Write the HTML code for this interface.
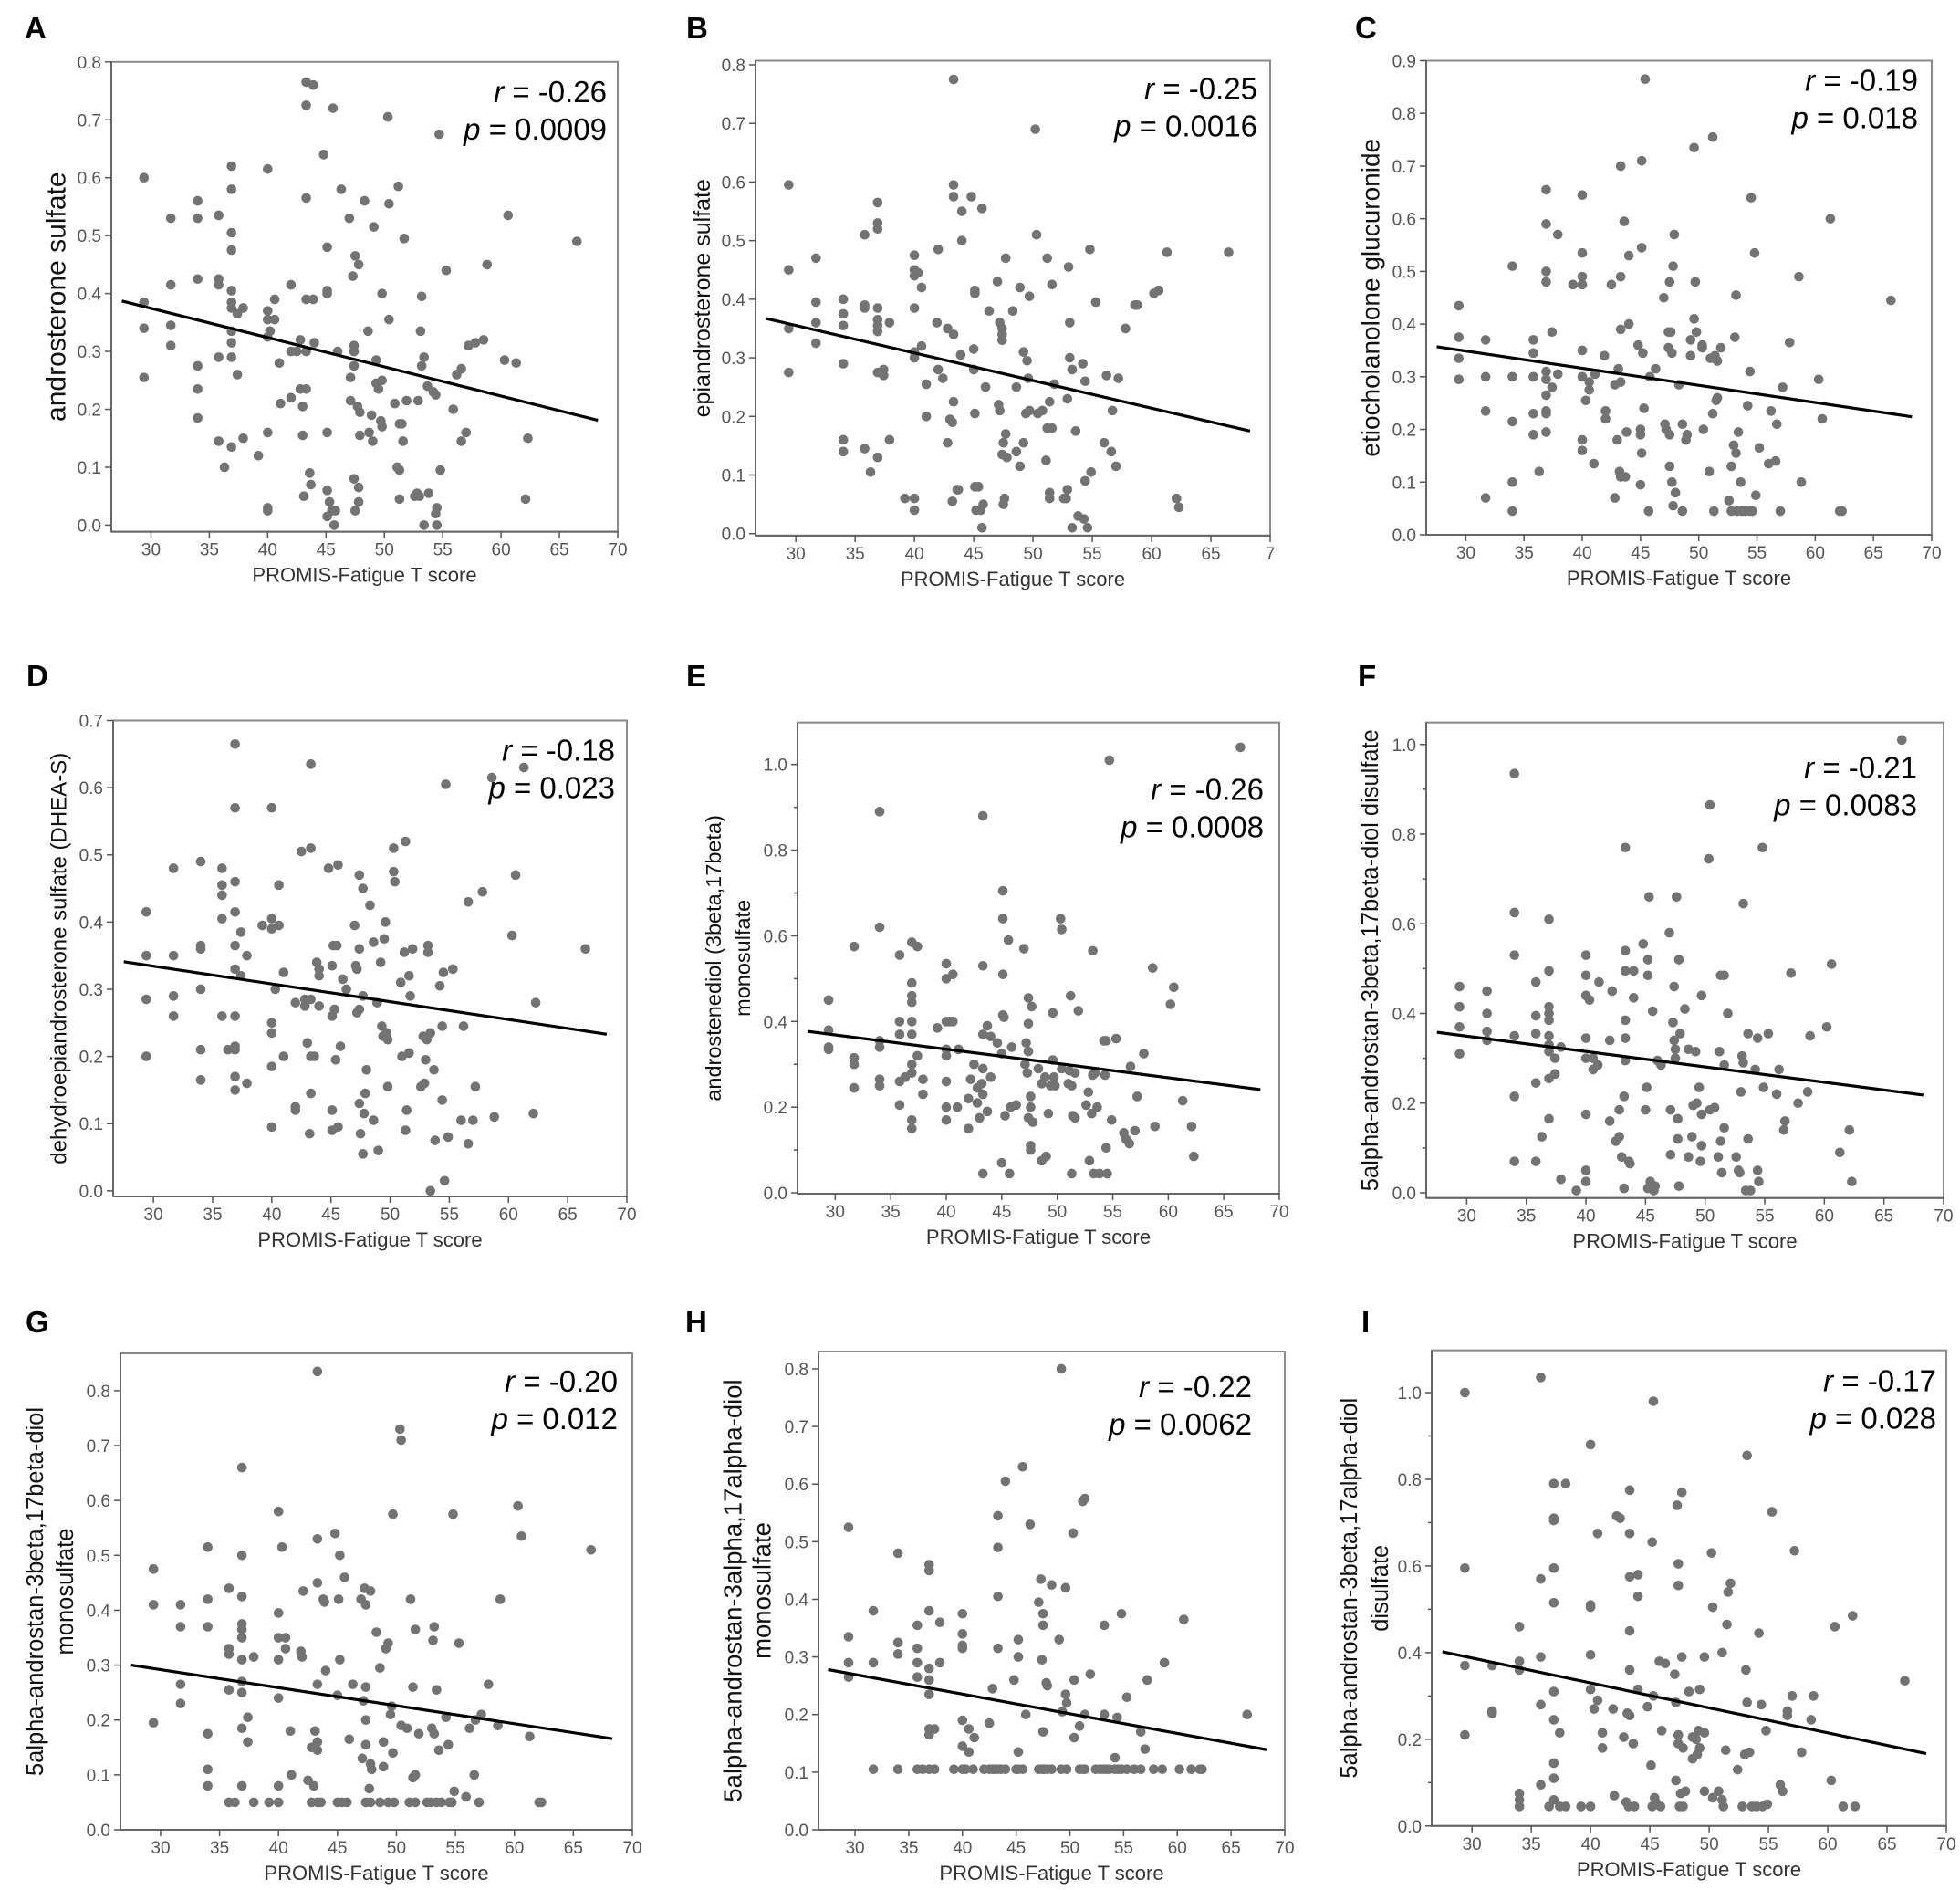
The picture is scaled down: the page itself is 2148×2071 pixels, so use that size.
<!DOCTYPE html>
<html><head><meta charset="utf-8"><style>
html,body{margin:0;padding:0;background:#fff;}
svg{display:block;font-family:"Liberation Sans",Arial,sans-serif;}
</style></head><body>
<svg id="fig" width="2148" height="2071" viewBox="0 0 2148 2071" xmlns="http://www.w3.org/2000/svg"></svg>
<script>
const xTicks=[30,35,40,45,50,55,60,65,70];
const aPts=[[29.4,0.60],[29.4,0.385],[29.4,0.34],[29.4,0.255],[31.7,0.53],[31.7,0.415],[31.7,0.345],[31.7,0.31],[34,0.56],[34,0.53],[34,0.425],[34,0.275],[34,0.235],[34,0.185],[35.8,0.535],[35.8,0.425],[35.8,0.415],[35.8,0.29],[35.8,0.145],[36.3,0.10],[36.9,0.62],[36.9,0.58],[36.9,0.505],[36.9,0.475],[36.9,0.405],[36.9,0.385],[36.9,0.375],[36.9,0.335],[36.9,0.315],[36.9,0.29],[36.9,0.135],[37.4,0.365],[37.4,0.26],[37.9,0.375],[37.9,0.15],[39.2,0.12],[40,0.615],[40,0.37],[40,0.355],[40,0.325],[40,0.16],[40,0.03],[40,0.025],[40.2,0.335],[40.6,0.39],[40.6,0.355],[41,0.28],[41.1,0.21],[42,0.415],[42,0.22],[42,0.30],[42.5,0.30],[42.8,0.32],[42.8,0.235],[43,0.205],[43,0.155],[43.1,0.05],[43.3,0.765],[43.3,0.725],[43.3,0.565],[43.3,0.39],[43.3,0.30],[43.3,0.235],[43.6,0.09],[43.7,0.07],[43.9,0.76],[43.9,0.39],[44,0.315],[44.8,0.64],[45.1,0.48],[45.1,0.405],[45.1,0.40],[45.1,0.16],[45.1,0.06],[45.1,0.015],[45.3,0.04],[45.5,0.025],[45.6,0.72],[45.7,0.0],[45.8,0.025],[46,0.30],[46.3,0.58],[47,0.53],[47.1,0.255],[47.1,0.215],[47.3,0.43],[47.4,0.31],[47.4,0.30],[47.4,0.275],[47.4,0.08],[47.5,0.465],[47.5,0.025],[47.7,0.205],[47.8,0.45],[47.8,0.065],[47.8,0.04],[47.9,0.195],[47.9,0.155],[48.3,0.56],[48.6,0.335],[48.7,0.16],[48.9,0.19],[49,0.145],[49.1,0.515],[49.3,0.285],[49.3,0.245],[49.5,0.235],[49.7,0.18],[49.8,0.40],[49.8,0.25],[49.8,0.17],[50.3,0.705],[50.4,0.555],[50.4,0.355],[50.9,0.21],[51.1,0.10],[51.2,0.585],[51.3,0.175],[51.3,0.095],[51.3,0.045],[51.5,0.175],[51.6,0.145],[51.7,0.495],[51.9,0.215],[52.6,0.05],[52.8,0.055],[52.9,0.215],[53,0.05],[53.1,0.335],[53.2,0.395],[53.2,0.275],[53.4,0.29],[53.4,0.0],[53.7,0.24],[53.8,0.055],[54.2,0.23],[54.4,0.225],[54.4,0.02],[54.5,0.03],[54.5,0.0],[54.7,0.675],[54.8,0.095],[55.3,0.44],[55.9,0.20],[56.2,0.26],[56.6,0.27],[56.6,0.145],[57,0.16],[57.2,0.31],[57.8,0.315],[58.5,0.32],[58.8,0.45],[60.3,0.285],[60.6,0.535],[61.3,0.28],[62.1,0.045],[62.3,0.15],[66.5,0.49]];
const bPts=[[29.4,0.595],[29.4,0.45],[29.4,0.35],[29.4,0.275],[31.7,0.47],[31.7,0.395],[31.7,0.36],[31.7,0.325],[34,0.40],[34,0.375],[34,0.355],[34,0.29],[34,0.16],[34,0.14],[35.8,0.51],[35.8,0.39],[35.8,0.385],[35.8,0.145],[36.3,0.105],[36.9,0.565],[36.9,0.53],[36.9,0.52],[36.9,0.385],[36.9,0.365],[36.9,0.355],[36.9,0.345],[36.9,0.275],[36.9,0.13],[37.4,0.28],[37.4,0.27],[37.9,0.36],[37.9,0.16],[39.2,0.06],[40,0.475],[40,0.45],[40,0.44],[40,0.385],[40,0.31],[40,0.30],[40,0.06],[40,0.04],[40.3,0.445],[40.6,0.42],[40.6,0.32],[41,0.255],[41,0.20],[41.9,0.36],[42,0.485],[42,0.28],[42.4,0.265],[42.8,0.35],[42.8,0.155],[43,0.195],[43.2,0.19],[43.2,0.055],[43.3,0.775],[43.3,0.595],[43.3,0.575],[43.3,0.34],[43.3,0.225],[43.6,0.075],[43.7,0.075],[43.9,0.305],[44,0.55],[44,0.50],[44.8,0.575],[45,0.315],[45,0.28],[45.1,0.415],[45.1,0.41],[45.1,0.205],[45.1,0.08],[45.2,0.04],[45.4,0.08],[45.6,0.04],[45.7,0.555],[45.7,0.01],[45.8,0.05],[46,0.25],[46.3,0.38],[47,0.43],[47.1,0.22],[47.2,0.36],[47.2,0.21],[47.4,0.35],[47.4,0.34],[47.4,0.33],[47.4,0.135],[47.5,0.155],[47.5,0.05],[47.6,0.06],[47.7,0.47],[47.7,0.17],[47.8,0.13],[48.3,0.38],[48.6,0.25],[48.6,0.14],[48.9,0.42],[48.9,0.115],[49.2,0.31],[49.2,0.155],[49.4,0.205],[49.5,0.295],[49.6,0.265],[49.7,0.405],[49.7,0.21],[50.2,0.69],[50.3,0.51],[50.4,0.205],[50.8,0.21],[51.1,0.125],[51.2,0.47],[51.2,0.18],[51.4,0.07],[51.4,0.06],[51.4,0.225],[51.6,0.18],[51.6,0.425],[51.8,0.255],[52.6,0.06],[52.8,0.06],[52.9,0.23],[52.9,0.075],[53,0.455],[53.1,0.36],[53.1,0.30],[53.3,0.28],[53.3,0.01],[53.6,0.175],[53.8,0.03],[54.2,0.29],[54.3,0.025],[54.4,0.26],[54.4,0.09],[54.6,0.01],[54.8,0.485],[54.9,0.105],[55.3,0.395],[56,0.155],[56.2,0.27],[56.6,0.14],[56.7,0.21],[57,0.115],[57.2,0.265],[57.8,0.35],[58.6,0.39],[58.8,0.39],[60.2,0.41],[60.6,0.415],[61.3,0.48],[62.1,0.06],[62.3,0.045],[66.5,0.48]];
const cPts=[[29.4,0.435],[29.4,0.375],[29.4,0.335],[29.4,0.295],[31.7,0.37],[31.7,0.30],[31.7,0.235],[31.7,0.07],[34,0.51],[34,0.30],[34,0.215],[34,0.10],[34,0.045],[35.8,0.37],[35.8,0.345],[35.8,0.30],[35.8,0.23],[35.8,0.19],[36.3,0.12],[36.9,0.655],[36.9,0.59],[36.9,0.50],[36.9,0.48],[36.9,0.31],[36.9,0.295],[36.9,0.265],[36.9,0.235],[36.9,0.23],[36.9,0.195],[37.4,0.385],[37.4,0.28],[37.9,0.57],[37.9,0.305],[39.2,0.475],[40,0.645],[40,0.535],[40,0.49],[40,0.475],[40,0.35],[40,0.30],[40,0.18],[40,0.16],[40.3,0.255],[40.6,0.29],[40.6,0.275],[41,0.135],[41.1,0.305],[41.9,0.34],[42,0.235],[42,0.22],[42.5,0.475],[42.8,0.285],[42.8,0.07],[43,0.18],[43.1,0.315],[43.2,0.12],[43.3,0.70],[43.3,0.49],[43.3,0.39],[43.3,0.29],[43.3,0.11],[43.6,0.595],[43.7,0.11],[43.8,0.195],[44,0.53],[44,0.40],[44.8,0.36],[45,0.20],[45,0.19],[45,0.095],[45.1,0.71],[45.1,0.545],[45.1,0.155],[45.2,0.345],[45.3,0.24],[45.4,0.865],[45.7,0.045],[45.8,0.30],[46.3,0.315],[47,0.45],[47.1,0.21],[47.2,0.20],[47.4,0.385],[47.4,0.355],[47.5,0.48],[47.5,0.13],[47.5,0.19],[47.6,0.385],[47.7,0.345],[47.7,0.10],[47.8,0.51],[47.8,0.055],[47.9,0.57],[48,0.08],[48.3,0.285],[48.6,0.21],[48.6,0.045],[48.9,0.18],[49,0.19],[49.3,0.37],[49.3,0.34],[49.6,0.41],[49.6,0.735],[49.7,0.48],[49.8,0.385],[50.3,0.36],[50.3,0.355],[50.4,0.20],[50.9,0.12],[51,0.335],[51.2,0.755],[51.2,0.23],[51.3,0.045],[51.4,0.34],[51.5,0.255],[51.6,0.33],[51.6,0.26],[51.9,0.355],[52.6,0.065],[52.8,0.13],[52.8,0.045],[53,0.17],[53.1,0.375],[53.2,0.455],[53.2,0.155],[53.3,0.045],[53.4,0.195],[53.6,0.10],[53.7,0.045],[54,0.045],[54.2,0.245],[54.4,0.31],[54.4,0.045],[54.5,0.64],[54.6,0.045],[54.8,0.535],[54.9,0.075],[55.2,0.165],[56,0.135],[56.2,0.235],[56.6,0.14],[56.7,0.21],[57,0.045],[57.2,0.28],[57.8,0.365],[58.6,0.49],[58.8,0.10],[60.3,0.295],[60.6,0.22],[61.3,0.60],[62.1,0.045],[62.3,0.045],[66.5,0.445]];
const dPts=[[29.4,0.415],[29.4,0.35],[29.4,0.285],[29.4,0.20],[31.7,0.48],[31.7,0.35],[31.7,0.29],[31.7,0.26],[34,0.49],[34,0.365],[34,0.36],[34,0.30],[34,0.21],[34,0.165],[35.8,0.48],[35.8,0.455],[35.8,0.44],[35.8,0.405],[35.8,0.26],[36.3,0.21],[36.9,0.665],[36.9,0.57],[36.9,0.46],[36.9,0.415],[36.9,0.365],[36.9,0.33],[36.9,0.26],[36.9,0.215],[36.9,0.21],[36.9,0.17],[36.9,0.15],[37.4,0.385],[37.4,0.32],[37.9,0.35],[37.9,0.16],[39.2,0.395],[40,0.57],[40,0.405],[40,0.39],[40,0.25],[40,0.235],[40,0.185],[40,0.095],[40.3,0.30],[40.6,0.455],[40.6,0.395],[41,0.325],[41,0.20],[42,0.125],[42,0.12],[42,0.28],[42.5,0.505],[42.8,0.285],[42.8,0.275],[43,0.22],[43.2,0.085],[43.3,0.635],[43.3,0.51],[43.3,0.285],[43.3,0.20],[43.3,0.145],[43.6,0.20],[43.8,0.34],[44,0.33],[44,0.32],[44,0.275],[44.8,0.48],[45.1,0.335],[45.1,0.26],[45.1,0.12],[45.1,0.09],[45.2,0.365],[45.3,0.27],[45.4,0.195],[45.5,0.365],[45.6,0.485],[45.6,0.095],[45.8,0.215],[46,0.315],[46.3,0.30],[47,0.395],[47.1,0.335],[47.2,0.265],[47.2,0.33],[47.4,0.47],[47.4,0.36],[47.4,0.27],[47.4,0.13],[47.5,0.085],[47.7,0.45],[47.7,0.29],[47.7,0.055],[47.8,0.115],[47.9,0.145],[48,0.18],[48.3,0.425],[48.6,0.37],[48.6,0.105],[48.9,0.28],[49,0.06],[49.2,0.34],[49.3,0.245],[49.4,0.23],[49.5,0.375],[49.6,0.40],[49.7,0.235],[49.8,0.225],[49.8,0.155],[50.3,0.51],[50.3,0.475],[50.4,0.46],[50.9,0.31],[51,0.20],[51.2,0.355],[51.3,0.52],[51.3,0.09],[51.4,0.12],[51.6,0.205],[51.6,0.32],[51.7,0.29],[51.9,0.36],[52.6,0.155],[52.8,0.23],[52.9,0.16],[53,0.195],[53.1,0.225],[53.2,0.365],[53.2,0.355],[53.4,0.235],[53.4,0.0],[53.7,0.18],[53.8,0.075],[54.2,0.305],[54.4,0.245],[54.4,0.135],[54.5,0.325],[54.6,0.015],[54.7,0.605],[54.9,0.08],[55.3,0.33],[56,0.105],[56.2,0.245],[56.6,0.43],[56.6,0.07],[57,0.105],[57.2,0.155],[57.8,0.445],[58.6,0.615],[58.8,0.11],[60.3,0.38],[60.6,0.47],[61.3,0.63],[62.1,0.115],[62.3,0.28],[66.5,0.36]];
const ePts=[[29.4,0.45],[29.4,0.38],[29.4,0.34],[29.4,0.335],[31.7,0.575],[31.7,0.315],[31.7,0.30],[31.7,0.245],[34,0.89],[34,0.62],[34,0.355],[34,0.34],[34,0.265],[34,0.25],[35.8,0.555],[35.8,0.40],[35.8,0.37],[35.8,0.26],[35.8,0.205],[36.3,0.27],[36.9,0.585],[36.9,0.49],[36.9,0.46],[36.9,0.445],[36.9,0.40],[36.9,0.37],[36.9,0.30],[36.9,0.28],[36.9,0.17],[36.9,0.15],[37.4,0.575],[37.4,0.32],[37.9,0.265],[37.9,0.23],[39.2,0.385],[40,0.535],[40,0.50],[40,0.40],[40,0.335],[40,0.32],[40,0.26],[40,0.20],[40,0.17],[40.3,0.40],[40.6,0.51],[40.6,0.40],[41,0.20],[41.1,0.335],[42,0.22],[42,0.15],[42.2,0.265],[42.5,0.30],[42.8,0.245],[42.8,0.21],[43,0.175],[43.2,0.255],[43.3,0.88],[43.3,0.53],[43.3,0.37],[43.3,0.29],[43.3,0.23],[43.3,0.045],[43.7,0.39],[43.7,0.19],[44,0.365],[44,0.27],[44.6,0.35],[45,0.325],[45,0.07],[45.1,0.705],[45.1,0.64],[45.1,0.51],[45.1,0.415],[45.2,0.41],[45.3,0.18],[45.6,0.59],[45.7,0.045],[45.9,0.34],[45.8,0.20],[46.3,0.205],[47,0.57],[47.1,0.30],[47.2,0.35],[47.3,0.28],[47.4,0.455],[47.4,0.395],[47.4,0.33],[47.4,0.175],[47.6,0.225],[47.6,0.20],[47.6,0.11],[47.6,0.10],[47.7,0.435],[47.8,0.165],[48.3,0.29],[48.6,0.255],[48.6,0.075],[48.9,0.27],[49,0.085],[49.2,0.185],[49.4,0.25],[49.6,0.31],[49.6,0.42],[49.7,0.27],[49.8,0.25],[50.3,0.64],[50.4,0.615],[50.4,0.29],[51,0.255],[51.1,0.285],[51.2,0.46],[51.3,0.25],[51.3,0.045],[51.4,0.18],[51.6,0.175],[51.6,0.28],[51.9,0.425],[52.6,0.205],[52.8,0.235],[52.9,0.075],[53.1,0.185],[53.2,0.565],[53.2,0.275],[53.3,0.045],[53.4,0.28],[53.6,0.20],[53.8,0.045],[54.2,0.355],[54.3,0.275],[54.4,0.105],[54.4,0.355],[54.5,0.045],[54.9,0.17],[55.3,0.36],[56,0.14],[56.2,0.125],[56.5,0.115],[56.6,0.295],[57,0.145],[57.2,0.225],[57.8,0.325],[58.6,0.525],[58.8,0.155],[60.2,0.44],[60.5,0.48],[61.3,0.215],[62.1,0.155],[62.3,0.085],[66.5,1.04],[54.7,1.01]];
const fPts=[[29.4,0.46],[29.4,0.415],[29.4,0.37],[29.4,0.31],[31.7,0.45],[31.7,0.40],[31.7,0.36],[31.7,0.34],[34,0.935],[34,0.625],[34,0.53],[34,0.35],[34,0.215],[34,0.07],[35.8,0.47],[35.8,0.395],[35.8,0.355],[35.8,0.245],[35.8,0.07],[36.3,0.125],[36.9,0.61],[36.9,0.495],[36.9,0.415],[36.9,0.40],[36.9,0.385],[36.9,0.35],[36.9,0.33],[36.9,0.315],[36.9,0.255],[36.9,0.165],[37.4,0.30],[37.4,0.265],[37.9,0.325],[37.9,0.03],[39.2,0.005],[40,0.53],[40,0.485],[40,0.44],[40,0.345],[40,0.30],[40,0.175],[40,0.05],[40,0.025],[40.3,0.43],[40.6,0.30],[40.6,0.275],[41,0.285],[41.1,0.47],[42,0.34],[42,0.16],[42.2,0.45],[42.5,0.115],[42.8,0.185],[42.8,0.125],[43,0.08],[43.2,0.215],[43.2,0.01],[43.3,0.77],[43.3,0.54],[43.3,0.495],[43.3,0.385],[43.3,0.345],[43.3,0.295],[43.6,0.07],[43.7,0.065],[44,0.495],[44,0.435],[44.8,0.555],[45,0.185],[45.1,0.235],[45.2,0.52],[45.2,0.485],[45.2,0.01],[45.3,0.66],[45.4,0.025],[45.5,0.015],[45.6,0.405],[45.7,0.005],[45.8,0.015],[46,0.295],[46.3,0.285],[47,0.58],[47.1,0.185],[47.1,0.085],[47.3,0.38],[47.4,0.46],[47.4,0.34],[47.5,0.32],[47.5,0.30],[47.6,0.66],[47.7,0.165],[47.7,0.12],[47.8,0.52],[47.9,0.355],[47.8,0.015],[48.3,0.41],[48.6,0.32],[48.6,0.08],[48.9,0.125],[49,0.195],[49.2,0.315],[49.3,0.20],[49.5,0.235],[49.6,0.07],[49.7,0.105],[49.7,0.175],[49.7,0.44],[50.3,0.745],[50.4,0.865],[50.4,0.185],[50.8,0.19],[51.1,0.08],[51.2,0.315],[51.3,0.485],[51.3,0.115],[51.4,0.045],[51.6,0.485],[51.6,0.285],[51.6,0.145],[51.9,0.40],[52.6,0.08],[52.8,0.05],[52.9,0.045],[53,0.225],[53.1,0.305],[53.2,0.645],[53.2,0.29],[53.4,0.005],[53.6,0.355],[53.6,0.12],[53.8,0.005],[54.2,0.275],[54.4,0.345],[54.4,0.05],[54.5,0.025],[54.8,0.77],[54.9,0.235],[55.3,0.355],[56,0.22],[56.2,0.275],[56.6,0.14],[56.7,0.16],[57.2,0.49],[57.8,0.20],[58.6,0.225],[58.8,0.35],[60.2,0.37],[60.6,0.51],[61.3,0.09],[62.1,0.14],[62.3,0.025],[66.5,1.01]];
const gPts=[[29.4,0.475],[29.4,0.41],[29.4,0.195],[31.7,0.41],[31.7,0.37],[31.7,0.265],[31.7,0.23],[34,0.515],[34,0.42],[34,0.37],[34,0.175],[34,0.11],[34,0.08],[35.8,0.44],[35.8,0.33],[35.8,0.32],[35.8,0.255],[35.8,0.05],[36.3,0.05],[36.9,0.66],[36.9,0.50],[36.9,0.425],[36.9,0.375],[36.9,0.365],[36.9,0.35],[36.9,0.31],[36.9,0.27],[36.9,0.25],[36.9,0.185],[36.9,0.08],[37.4,0.205],[37.4,0.16],[37.9,0.315],[37.9,0.05],[39.2,0.05],[40,0.58],[40,0.395],[40,0.35],[40,0.31],[40,0.24],[40,0.08],[40,0.05],[40.3,0.515],[40.6,0.35],[40.6,0.33],[41,0.18],[41.1,0.10],[41.9,0.325],[42,0.315],[42.1,0.435],[42.5,0.09],[42.8,0.15],[42.8,0.05],[43,0.08],[43.1,0.18],[43.3,0.835],[43.3,0.53],[43.3,0.45],[43.3,0.265],[43.3,0.16],[43.3,0.145],[43.3,0.05],[43.6,0.05],[43.8,0.42],[43.9,0.415],[44,0.29],[44.8,0.54],[45,0.245],[45,0.05],[45.1,0.42],[45.2,0.50],[45.2,0.31],[45.4,0.05],[45.6,0.46],[45.8,0.05],[46,0.165],[46.3,0.265],[47,0.42],[47.1,0.13],[47.2,0.235],[47.3,0.44],[47.4,0.41],[47.4,0.26],[47.4,0.20],[47.4,0.155],[47.4,0.05],[47.7,0.075],[47.8,0.435],[47.8,0.12],[47.9,0.11],[47.8,0.05],[48.3,0.36],[48.6,0.295],[48.6,0.05],[48.9,0.16],[48.9,0.115],[49.1,0.33],[49.3,0.34],[49.3,0.05],[49.5,0.21],[49.6,0.225],[49.7,0.575],[49.7,0.14],[49.8,0.05],[50.3,0.73],[50.4,0.71],[50.4,0.19],[50.9,0.185],[51.1,0.05],[51.2,0.42],[51.4,0.095],[51.4,0.26],[51.6,0.10],[51.6,0.05],[51.6,0.365],[51.9,0.175],[52.6,0.05],[52.9,0.05],[53,0.185],[53.1,0.345],[53.2,0.37],[53.2,0.175],[53.4,0.255],[53.4,0.05],[53.6,0.145],[53.8,0.05],[54.2,0.205],[54.4,0.155],[54.5,0.05],[54.7,0.05],[54.8,0.575],[54.9,0.07],[55.3,0.34],[55.9,0.06],[56.2,0.185],[56.6,0.10],[56.7,0.20],[57,0.05],[57.2,0.21],[57.8,0.265],[58.6,0.19],[58.8,0.42],[60.3,0.59],[60.6,0.535],[61.3,0.17],[62.1,0.05],[62.3,0.05],[66.5,0.51]];
const hPts=[[29.4,0.525],[29.4,0.335],[29.4,0.29],[29.4,0.265],[31.7,0.38],[31.7,0.29],[34,0.48],[34,0.325],[34,0.305],[35.8,0.355],[35.8,0.315],[35.8,0.29],[35.8,0.265],[36.9,0.46],[36.9,0.45],[36.9,0.38],[36.9,0.28],[36.9,0.26],[36.9,0.235],[36.9,0.175],[36.9,0.165],[37.4,0.175],[37.9,0.36],[37.9,0.29],[40,0.375],[40,0.34],[40,0.32],[40,0.315],[40,0.19],[40,0.145],[40.6,0.175],[40.6,0.135],[41.1,0.16],[42.5,0.185],[42.8,0.245],[43.3,0.545],[43.3,0.49],[43.3,0.405],[43.3,0.315],[44,0.605],[44.8,0.26],[45.2,0.33],[45.2,0.30],[45.2,0.135],[45.6,0.63],[45.9,0.20],[46.3,0.53],[47.1,0.395],[47.3,0.435],[47.4,0.295],[47.5,0.375],[47.5,0.355],[47.5,0.17],[47.8,0.255],[47.9,0.25],[48.3,0.425],[49,0.33],[49.2,0.80],[49.3,0.205],[49.6,0.42],[49.6,0.235],[49.7,0.22],[50.3,0.515],[50.4,0.26],[50.4,0.16],[50.9,0.18],[51.2,0.57],[51.4,0.575],[51.4,0.20],[51.9,0.27],[53.2,0.355],[53.2,0.20],[54.4,0.195],[54.2,0.125],[54.8,0.375],[55.3,0.23],[56.6,0.17],[57,0.14],[57.2,0.26],[58.8,0.29],[60.6,0.365],[66.5,0.20],
[31.7,0.105],[34,0.105],[35.8,0.105],[36.3,0.105],[36.9,0.105],[37.4,0.105],[39.2,0.105],[40,0.105],[40.3,0.105],[41,0.105],[42,0.105],[42.5,0.105],[42.8,0.105],[43,0.105],[43.3,0.105],[43.6,0.105],[44,0.105],[45,0.105],[45.2,0.105],[45.6,0.105],[47.1,0.105],[47.4,0.105],[47.6,0.105],[47.9,0.105],[48.3,0.105],[49.2,0.105],[49.7,0.105],[50.9,0.105],[51.2,0.105],[51.4,0.105],[52.4,0.105],[52.8,0.105],[53.1,0.105],[53.4,0.105],[53.7,0.105],[54.2,0.105],[54.5,0.105],[54.8,0.105],[55.3,0.105],[56,0.105],[56.6,0.105],[57.8,0.105],[58.6,0.105],[60.2,0.105],[61.3,0.105],[62.1,0.105],[62.3,0.105]];
const iPts=[[29.4,1.0],[29.4,0.595],[29.4,0.37],[29.4,0.21],[31.7,0.37],[31.7,0.265],[31.7,0.26],[34,0.46],[34,0.38],[34,0.36],[34,0.075],[34,0.06],[34,0.045],[35.8,1.035],[35.8,0.57],[35.8,0.39],[35.8,0.28],[35.8,0.095],[36.9,0.79],[36.9,0.71],[36.9,0.705],[36.9,0.595],[36.9,0.515],[36.9,0.31],[36.9,0.245],[36.9,0.145],[36.9,0.11],[36.9,0.06],[36.5,0.045],[37.4,0.215],[37.4,0.045],[37.9,0.79],[37.9,0.045],[39.2,0.045],[40,0.88],[40,0.51],[40,0.505],[40,0.395],[40,0.315],[40,0.045],[40.3,0.27],[40.6,0.675],[40.6,0.29],[41,0.215],[41,0.18],[41.9,0.27],[42,0.07],[42.2,0.715],[42.5,0.71],[42.8,0.205],[43,0.055],[43.1,0.26],[43.2,0.045],[43.3,0.775],[43.3,0.675],[43.3,0.575],[43.3,0.45],[43.3,0.36],[43.3,0.255],[43.6,0.19],[43.7,0.045],[44,0.58],[44,0.53],[44,0.315],[44.8,0.275],[45.1,0.14],[45.2,0.655],[45.2,0.045],[45.3,0.98],[45.3,0.30],[45.4,0.065],[45.5,0.055],[45.8,0.38],[45.9,0.045],[46,0.22],[46.3,0.375],[47.1,0.35],[47.2,0.285],[47.2,0.105],[47.3,0.74],[47.4,0.605],[47.4,0.555],[47.4,0.21],[47.4,0.19],[47.5,0.045],[47.6,0.075],[47.7,0.77],[47.7,0.39],[47.8,0.18],[47.8,0.045],[48,0.08],[48.3,0.31],[48.6,0.205],[48.6,0.155],[48.9,0.20],[49,0.165],[49.1,0.22],[49.2,0.315],[49.2,0.18],[49.6,0.39],[49.6,0.215],[49.6,0.08],[50.2,0.63],[50.3,0.505],[50.3,0.065],[50.8,0.08],[51.1,0.40],[51.1,0.06],[51.2,0.045],[51.4,0.175],[51.5,0.465],[51.6,0.54],[51.8,0.56],[52.4,0.13],[52.8,0.045],[53,0.165],[53.1,0.36],[53.2,0.855],[53.2,0.285],[53.4,0.17],[53.6,0.045],[54,0.045],[54.2,0.445],[54.4,0.28],[54.5,0.045],[54.8,0.22],[54.9,0.05],[55.3,0.725],[56,0.095],[56.2,0.08],[56.6,0.265],[56.6,0.255],[57,0.30],[57.2,0.635],[57.8,0.17],[58.6,0.245],[58.8,0.30],[60.3,0.105],[60.6,0.46],[61.3,0.045],[62.1,0.485],[62.3,0.045],[66.5,0.335]];
const fitX=[27.5,68.3];
const fitStart=[0.387,0.367,0.357,0.341,0.377,0.358,0.300,0.278,0.402];
const fitEnd=[0.181,0.175,0.224,0.233,0.241,0.218,0.166,0.139,0.167];
const rLabels=["-0.26","-0.25","-0.19","-0.18","-0.26","-0.21","-0.20","-0.22","-0.17"];
const pLabels=["0.0009","0.0016","0.018","0.023","0.0008","0.0083","0.012","0.0062","0.028"];

const panels=[
 {id:'a',letter:'A',lx:27,ly:42,L:122,R:677,T:67.8,B:582.6,ymin:-0.0113,ymax:0.8,step:0.1,minor:false,pts:aPts,yl:['androsterone sulfate'],ylx:[62],ylf:30,rx:665,ry:44},
 {id:'b',letter:'B',lx:752,ly:42,L:828,R:1392,T:66.5,B:586.9,ymin:-0.0034,ymax:0.807,step:0.1,minor:false,pts:bPts,yl:['epiandrosterone sulfate'],ylx:[770],ylf:25,rx:1378,ry:42,trunc:true},
 {id:'c',letter:'C',lx:1485,ly:42,L:1563,R:2117,T:66.5,B:586,ymin:0,ymax:0.9,step:0.1,minor:false,pts:cPts,yl:['etiocholanolone glucuronide'],ylx:[1502],ylf:28,rx:2102,ry:33},
 {id:'d',letter:'D',lx:29,ly:752,L:124,R:687,T:789.5,B:1311,ymin:-0.0084,ymax:0.7,step:0.1,minor:false,pts:dPts,yl:['dehydroepiandrosterone sulfate (DHEA-S)'],ylx:[65],ylf:24,rx:674,ry:44},
 {id:'e',letter:'E',lx:752,ly:752,L:874,R:1402,T:791.7,B:1308,ymin:-0.002,ymax:1.098,step:0.2,minor:true,pts:ePts,yl:['androstenediol (3beta,17beta)','monosulfate'],ylx:[782,814],ylf:23.5,rx:1385,ry:85},
 {id:'f',letter:'F',lx:1488,ly:752,L:1563,R:2130,T:791.7,B:1312.7,ymin:-0.0116,ymax:1.049,step:0.2,minor:true,pts:fPts,yl:['5alpha-androstan-3beta,17beta-diol disulfate'],ylx:[1502],ylf:25.5,rx:2101,ry:61},
 {id:'g',letter:'G',lx:28,ly:1460,L:132,R:693,T:1483,B:2005,ymin:0,ymax:0.868,step:0.1,minor:false,pts:gPts,yl:['5alpha-androstan-3beta,17beta-diol','monosulfate'],ylx:[39,72],ylf:25.5,rx:677,ry:42},
 {id:'h',letter:'H',lx:751,ly:1460,L:897,R:1408,T:1481,B:2005,ymin:0,ymax:0.830,step:0.1,minor:false,pts:hPts,yl:['5alpha-androstan-3alpha,17alpha-diol','monosulfate'],ylx:[803,835],ylf:27.5,rx:1372,ry:50},
 {id:'i',letter:'I',lx:1492,ly:1460,L:1569,R:2133,T:1479.7,B:2000.8,ymin:0,ymax:1.0975,step:0.2,minor:true,pts:iPts,yl:['5alpha-androstan-3beta,17alpha-diol','disulfate'],ylx:[1479,1513],ylf:25.5,rx:2122,ry:45}
];
const NS='http://www.w3.org/2000/svg';
const svg=document.getElementById('fig');
function mk(tag,attrs,parent,txt){const e=document.createElementNS(NS,tag);for(const k in attrs)e.setAttribute(k,attrs[k]);if(txt!==undefined)e.textContent=txt;parent.appendChild(e);return e;}
const XMIN=26.6,XMAX=70;
panels.forEach((p,pi)=>{
  const g=mk('g',{},svg);
  
  
  const sx=v=>p.L+(v-XMIN)/(XMAX-XMIN)*(p.R-p.L);
  const sy=v=>p.B-(v-p.ymin)/(p.ymax-p.ymin)*(p.B-p.T);
  const lt=mk('text',{x:p.lx,y:p.ly,'font-size':33,'font-weight':'bold',fill:'#000'},g,p.letter);
  
  
  const fr=mk('rect',{x:p.L,y:p.T,width:p.R-p.L,height:p.B-p.T,fill:'none',stroke:'#8a8a8a','stroke-width':2},g);
  
  
  mk('line',{x1:p.L,y1:p.T,x2:p.L,y2:p.B,stroke:'#666','stroke-width':2},g);
  mk('line',{x1:p.L,y1:p.B,x2:p.R,y2:p.B,stroke:'#666','stroke-width':2},g);
  const yt=mk('g',{},g);
  
  
  const nMaj=Math.floor(p.ymax/p.step+1e-6);
  for(let k=0;k<=nMaj;k++){const v=k*p.step;const y=sy(v);
    mk('line',{x1:p.L-7,y1:y,x2:p.L,y2:y,stroke:'#555','stroke-width':1.5},yt);
    mk('text',{x:p.L-11,y:y+7,'font-size':19,fill:'#555','text-anchor':'end'},yt,v.toFixed(1));
    if(p.minor){const vm=v+p.step/2;if(vm<p.ymax){const ym=sy(vm);mk('line',{x1:p.L-4,y1:ym,x2:p.L,y2:ym,stroke:'#555','stroke-width':1.5},yt);}}
  }
  const xt=mk('g',{},g);
  
  
  xTicks.forEach((v)=>{const x=sx(v);
    mk('line',{x1:x,y1:p.B,x2:x,y2:p.B+7,stroke:'#555','stroke-width':1.5},xt);
    const lab=(p.trunc&&v===70)?'7':String(v);
    mk('text',{x:x,y:p.B+26,'font-size':19,fill:'#555','text-anchor':'middle'},xt,lab);
  });
  const xtit=mk('text',{x:(p.L+p.R)/2,y:p.B+55,'font-size':22,fill:'#333','text-anchor':'middle'},g,'PROMIS-Fatigue T score');
  
  
  const cy=(p.T+p.B)/2;
  p.yl.forEach((s,j)=>{const t=mk('text',{x:p.ylx[j],y:cy,'font-size':p.ylf,fill:'#111','text-anchor':'middle','dominant-baseline':'central',transform:'rotate(-90 '+p.ylx[j]+' '+cy+')'},g,s);
    
    });
  const dots=mk('g',{fill:'#737373'},g);
  
  
  p.pts.forEach(pt=>{const c=mk('circle',{cx:sx(pt[0]),cy:sy(pt[1]),r:5.3},dots);
    
    });
  const ln=mk('line',{x1:sx(fitX[0]),y1:sy(fitStart[pi]),x2:sx(fitX[1]),y2:sy(fitEnd[pi]),stroke:'#000','stroke-width':3.2},g);
  
  
  const rt=mk('text',{x:p.rx,y:p.T+p.ry,'font-size':33,fill:'#000','text-anchor':'end'},g);
  
  
  mk('tspan',{'font-style':'italic'},rt,'r');
  mk('tspan',{},rt,' = '+rLabels[pi]);
  const pt=mk('text',{x:p.rx,y:p.T+p.ry+41,'font-size':33,fill:'#000','text-anchor':'end'},g);
  
  
  mk('tspan',{'font-style':'italic'},pt,'p');
  mk('tspan',{},pt,' = '+pLabels[pi]);
});
</script>
</body></html>
